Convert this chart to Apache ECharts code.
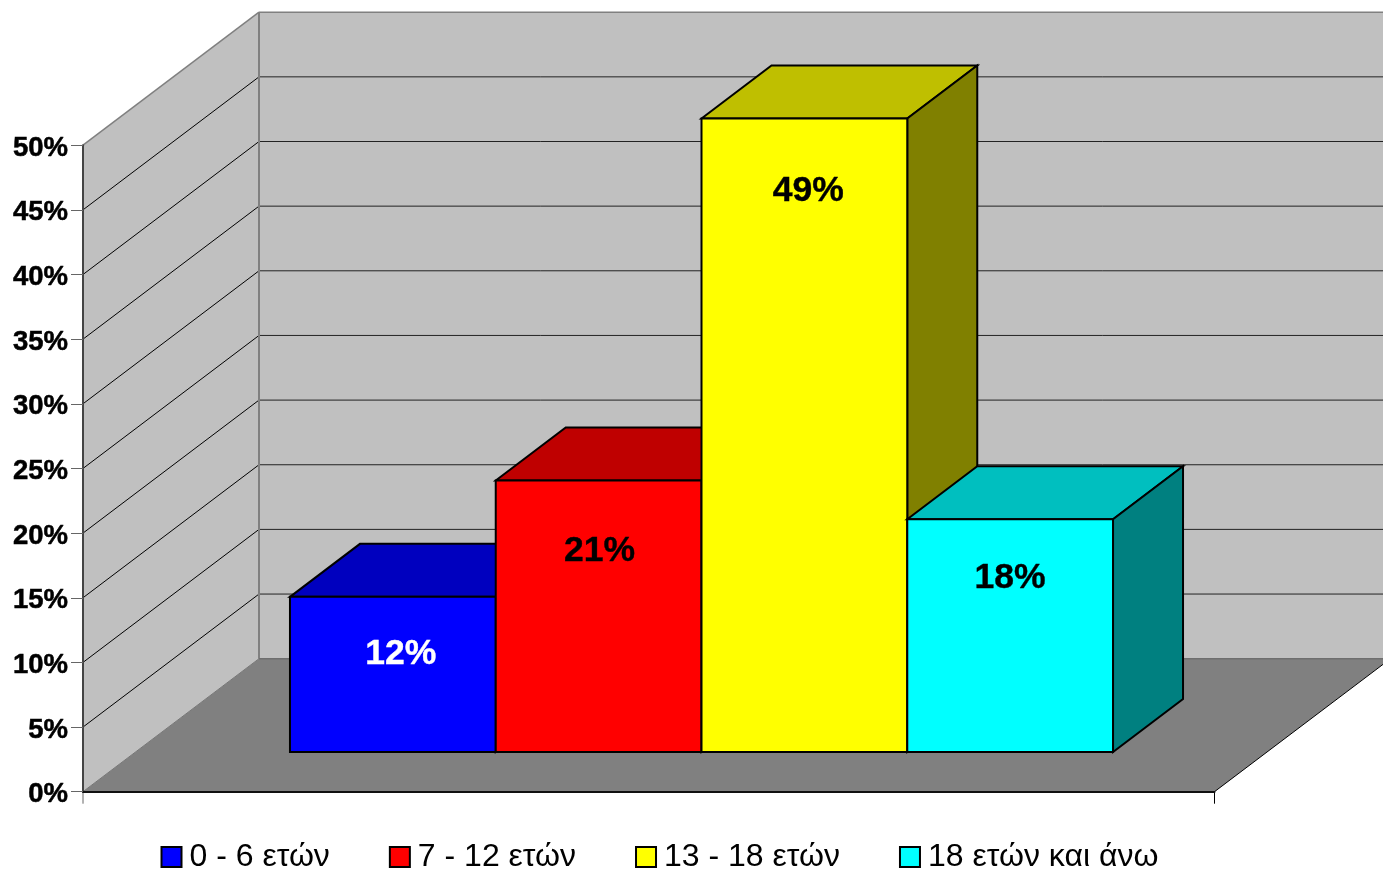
<!DOCTYPE html>
<html><head><meta charset="utf-8">
<style>html,body{margin:0;padding:0;background:#fff}#c{width:1383px;height:870px}</style>
<script src="https://cdn.jsdelivr.net/npm/echarts@6/dist/echarts.min.js"></script>
</head><body><div id="c"></div>
<script>
const categories = ['Ηλικία'];
const seriesNames = ['0 - 6 ετών', '7 - 12 ετών', '13 - 18 ετών', '18 ετών και άνω'];
const seriesValues = [12, 21, 49, 18];
const gridTicks = [5, 10, 15, 20, 25, 30, 35, 40, 45];

const frontColors = ['#0000ff', '#ff0000', '#ffff00', '#00ffff'];
const topColors = ['#0000bf', '#bf0000', '#bfbf00', '#00bfbf'];
const sideColors = ['#000080', '#800000', '#808000', '#008080'];
const labelColors = ['#fff', '#000', '#000', '#000'];
const labelShift = [[8, 57], [1, 71], [4, 73], [0, 59]];

const WALL_DX = 176, WALL_DY = -133;
const BAR_DX = 70, BAR_DY = -53;
const GAP_DX = 52.75, GAP_DY = -39.7;
const BAR_SHARE = 0.7274;
const TICK_LEN = 12;

const poly = (points, fill, stroke, lw, z2) => ({
  type: 'polygon', z2: z2 || 0, shape: { points },
  style: { fill, stroke: stroke || 'none', lineWidth: lw || 0, lineJoin: 'miter' }
});
const line = (p, q, stroke, lw, z2) => ({
  type: 'line', z2: z2 || 1,
  shape: { x1: p[0], y1: p[1], x2: q[0], y2: q[1] },
  style: { stroke, lineWidth: lw, fill: 'none' }
});

function renderBackdrop(params, api) {
  const c0 = api.coord([0, 0]);
  const band = api.size([1, 0])[0];
  const L = c0[0] - band / 2, R = c0[0] + band / 2, B = c0[1];
  const T = api.coord([0, 50])[1];
  const kids = [];
  const bx = L + WALL_DX, rx = R + WALL_DX;
  kids.push(poly([[bx, T + WALL_DY], [rx, T + WALL_DY], [rx, B + WALL_DY], [bx, B + WALL_DY]], '#c0c0c0'));
  kids.push(poly([[L, T], [bx, T + WALL_DY], [bx, B + WALL_DY], [L, B]], '#c0c0c0'));
  gridTicks.forEach(v => {
    const y = api.coord([0, v])[1];
    kids.push(line([L, y], [bx, y + WALL_DY], '#000', 1));
    kids.push(line([bx, y + WALL_DY], [rx, y + WALL_DY], '#222', 1));
  });
  kids.push(line([L, T], [bx, T + WALL_DY], '#808080', 1.5, 2));
  kids.push(line([bx, T + WALL_DY], [rx, T + WALL_DY], '#808080', 1.5, 2));
  kids.push(line([bx, T + WALL_DY], [bx, B + WALL_DY], '#808080', 2, 2));
  kids.push(poly([[L, B], [bx, B + WALL_DY], [rx, B + WALL_DY], [R, B]], '#808080', null, 0, 3));
  kids.push(line([bx, B + WALL_DY], [rx, B + WALL_DY], '#6e6e6e', 1.5, 4));
  kids.push(line([L, B], [bx, B + WALL_DY], '#767676', 1, 4));
  kids.push(line([R, B], [rx, B + WALL_DY], '#000', 1, 4));
  kids.push(line([L, B], [L, B + TICK_LEN], '#666', 1, 4));
  kids.push(line([R, B], [R, B + TICK_LEN], '#000', 1, 4));
  return { type: 'group', children: kids };
}

function makeBarRender(i) {
  return function (params, api) {
    const val = api.value(1);
    const c0 = api.coord([0, 0]);
    const top = api.coord([0, val])[1] + GAP_DY;
    const base = c0[1] + GAP_DY;
    const band = api.size([1, 0])[0];
    const w = band * BAR_SHARE / seriesValues.length;
    const x0 = c0[0] + GAP_DX - w * seriesValues.length / 2 + w * i;
    const x1 = x0 + w;
    const S = '#000', LW = 2;
    const kids = [
      poly([[x0, top], [x0 + BAR_DX, top + BAR_DY], [x1 + BAR_DX, top + BAR_DY], [x1, top]], topColors[i], S, LW),
      poly([[x1, top], [x1 + BAR_DX, top + BAR_DY], [x1 + BAR_DX, base + BAR_DY], [x1, base]], sideColors[i], S, LW),
      poly([[x0, top], [x1, top], [x1, base], [x0, base]], frontColors[i], S, LW),
      { type: 'text', z2: 5, style: {
          x: (x0 + x1) / 2 + labelShift[i][0], y: top + labelShift[i][1],
          text: val + '%', fill: labelColors[i], align: 'center', verticalAlign: 'middle',
          stroke: labelColors[i], lineWidth: 0.4,
          font: 'bold 35.5px "Liberation Sans", Arial, sans-serif' } }
    ];
    return { type: 'group', children: kids };
  };
}

const chart = echarts.init(document.getElementById('c'), null, { renderer: 'canvas' });
chart.setOption({
  animation: false,
  backgroundColor: '#fff',
  grid: { left: 83, right: 168.5, top: 145.2, bottom: 78.3, containLabel: false },
  legend: {
    left: 160.5, top: 841, padding: 0, itemWidth: 20, itemHeight: 20, itemGap: 59,
    icon: 'rect', selectedMode: false,
    data: seriesNames,
    itemStyle: { borderColor: '#000', borderWidth: 2 },
    textStyle: { fontFamily: '"Liberation Sans", Arial, sans-serif', fontSize: 32, color: '#000', padding: [0, 0, 0, 3] }
  },
  xAxis: {
    type: 'category', data: categories, z: 10,
    axisLine: { lineStyle: { color: '#111', width: 2 } },
    axisTick: { show: false },
    axisLabel: { show: false }, splitLine: { show: false }
  },
  yAxis: {
    type: 'value', min: 0, max: 50, interval: 5, z: 10,
    axisLine: { show: true, lineStyle: { color: '#444', width: 2 } },
    axisTick: { show: true, length: 12, lineStyle: { color: '#666', width: 1 } },
    axisLabel: { formatter: '{value}%', margin: 15, color: '#000', verticalAlign: 'top', padding: [-11, 0, 0, 0],
      textBorderColor: '#000', textBorderWidth: 0.5,
      fontFamily: '"Liberation Sans", Arial, sans-serif', fontWeight: 'bold', fontSize: 27.5 },
    splitLine: { show: false }
  },
  series: [
    { type: 'custom', name: 'backdrop', z: 1, silent: true, renderItem: renderBackdrop,
      encode: { x: 0, y: 1 }, data: [[0, 0]] }
  ].concat(seriesNames.map((name, i) => ({
    type: 'custom', name, z: 3 + i, renderItem: makeBarRender(i),
    itemStyle: { color: frontColors[i] },
    encode: { x: 0, y: 1 }, data: [[0, seriesValues[i]]]
  })))
});
</script></body></html>
